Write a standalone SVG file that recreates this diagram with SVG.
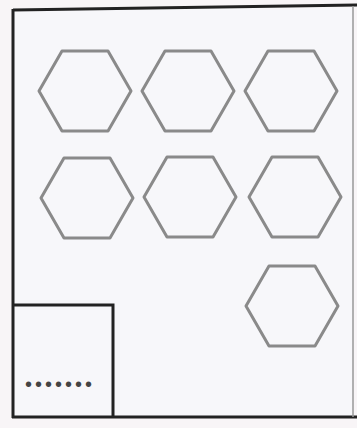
<svg xmlns="http://www.w3.org/2000/svg" width="357" height="428" viewBox="0 0 357 428">
<style>
.hex{fill:none;stroke:#8a8a8a;stroke-width:3;stroke-linejoin:round}
.frame{fill:none;stroke:#222;stroke-width:3}
.dots{font-family:"Liberation Sans",Arial,sans-serif;font-size:20px;fill:#444;letter-spacing:3px}
</style>
<defs>
<polygon id="hx" points="-46,0 -23,-40 23,-40 46,0 23,40 -23,40"/>
</defs>
<rect x="0" y="0" width="357" height="428" fill="#f8f5f7"/>
<g id="frame">
<rect x="13" y="8" width="340" height="409" fill="#f7f7fa" stroke="none"/>
<path class="frame" d="M13,10 L357,5"/>
<path class="frame" d="M13,9 L13,418"/>
<path class="frame" d="M12,417 L357,417"/>
<path d="M353,6 L353,417" fill="none" stroke="#999" stroke-width="1.5"/>
</g>
<g id="hex1"><use href="#hx" class="hex" transform="translate(85,91)"/></g>
<g id="hex2"><use href="#hx" class="hex" transform="translate(188,91)"/></g>
<g id="hex3"><use href="#hx" class="hex" transform="translate(291,91)"/></g>
<g id="hex4"><use href="#hx" class="hex" transform="translate(87,198)"/></g>
<g id="hex5"><use href="#hx" class="hex" transform="translate(190,197)"/></g>
<g id="hex6"><use href="#hx" class="hex" transform="translate(295,197)"/></g>
<g id="hex7"><use href="#hx" class="hex" transform="translate(292,306)"/></g>
<g id="legend">
<path class="frame" d="M13,305 L113,305 L113,417"/>
<text class="dots" x="25" y="391">•••••••</text>
</g>
<g id="connectors"></g>
</svg>
